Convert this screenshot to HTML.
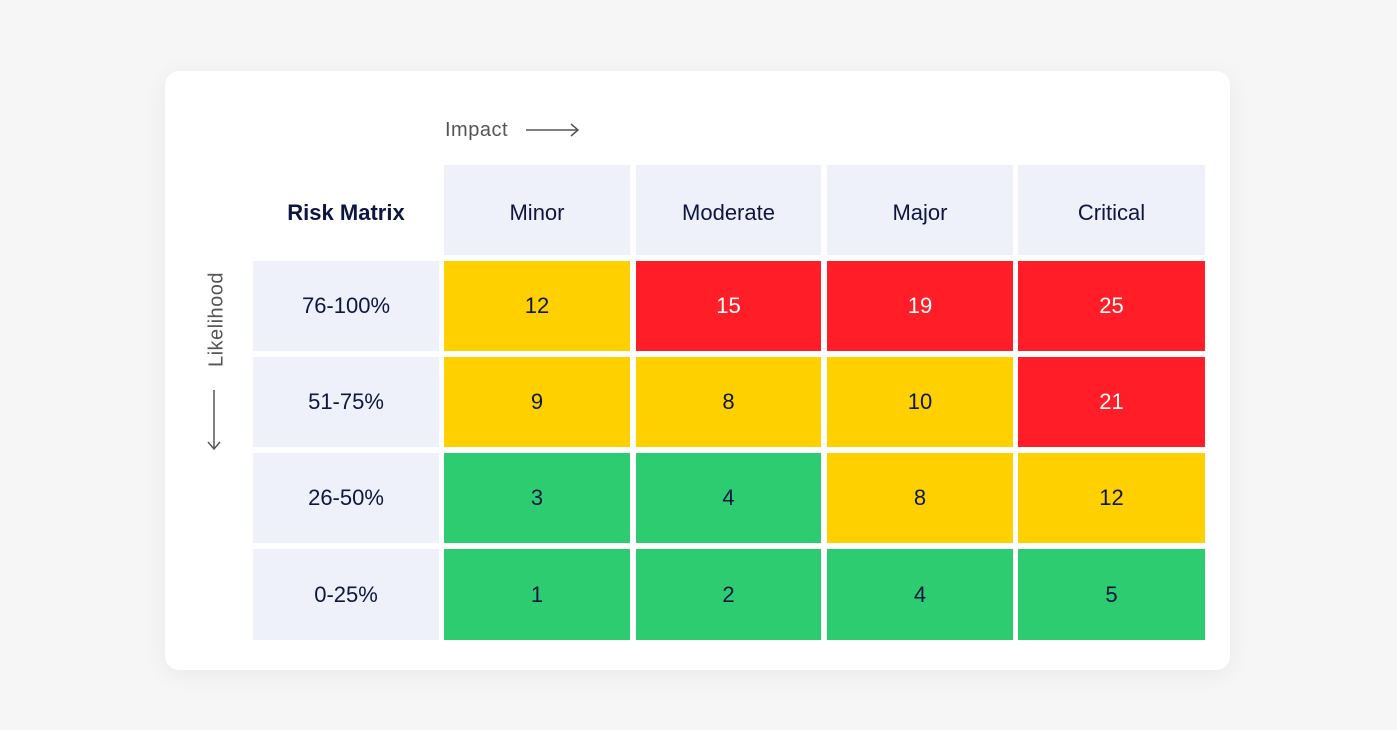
<!DOCTYPE html>
<html><head><style>
body{margin:0;width:1397px;height:730px;background:#f6f6f7;font-family:"Liberation Sans",sans-serif;position:relative;overflow:hidden}
.card{position:absolute;left:165px;top:71px;width:1065px;height:599px;background:#fff;border-radius:14px;box-shadow:0 4px 24px rgba(0,0,0,0.06)}
.c{position:absolute;display:flex;align-items:center;justify-content:center;font-size:22px;color:#0d1640}
.top{padding-top:6px;box-sizing:border-box}
.h{background:#eef1fa}
.y{background:#ffd000}
.r{background:#ff1e27;color:#fff}
.g{background:#2ecc71}
</style></head><body>
<div class="card"></div>
<div style="position:absolute;left:445px;top:119px;font-size:20px;color:#555;letter-spacing:0.5px">Impact</div>
<svg style="position:absolute;left:525px;top:122px" width="58" height="16"><line x1="1" y1="8" x2="53" y2="8" stroke="#555" stroke-width="1.5"/><polyline points="46,2 53,8 46,14" fill="none" stroke="#555" stroke-width="1.5"/></svg>
<div style="position:absolute;left:164px;top:308px;width:106px;transform:rotate(-90deg);font-size:20px;color:#555;text-align:center;letter-spacing:0.5px">Likelihood</div>
<svg style="position:absolute;left:205px;top:388px" width="18" height="64"><line x1="9" y1="2" x2="9" y2="61" stroke="#555" stroke-width="1.5"/><polyline points="3,54 9,61 15,54" fill="none" stroke="#555" stroke-width="1.5"/></svg>
<div class="c top" style="left:253px;top:165px;width:186px;height:90px;font-weight:bold">Risk Matrix</div>
<div class="c h top" style="left:444px;top:165px;width:186px;height:90px">Minor</div>
<div class="c h top" style="left:636px;top:165px;width:185px;height:90px">Moderate</div>
<div class="c h top" style="left:827px;top:165px;width:186px;height:90px">Major</div>
<div class="c h top" style="left:1018px;top:165px;width:187px;height:90px">Critical</div>

<div class="c h" style="left:253px;top:261px;width:186px;height:90px">76-100%</div>
<div class="c y" style="left:444px;top:261px;width:186px;height:90px">12</div>
<div class="c r" style="left:636px;top:261px;width:185px;height:90px">15</div>
<div class="c r" style="left:827px;top:261px;width:186px;height:90px">19</div>
<div class="c r" style="left:1018px;top:261px;width:187px;height:90px">25</div>

<div class="c h" style="left:253px;top:357px;width:186px;height:90px">51-75%</div>
<div class="c y" style="left:444px;top:357px;width:186px;height:90px">9</div>
<div class="c y" style="left:636px;top:357px;width:185px;height:90px">8</div>
<div class="c y" style="left:827px;top:357px;width:186px;height:90px">10</div>
<div class="c r" style="left:1018px;top:357px;width:187px;height:90px">21</div>

<div class="c h" style="left:253px;top:453px;width:186px;height:90px">26-50%</div>
<div class="c g" style="left:444px;top:453px;width:186px;height:90px">3</div>
<div class="c g" style="left:636px;top:453px;width:185px;height:90px">4</div>
<div class="c y" style="left:827px;top:453px;width:186px;height:90px">8</div>
<div class="c y" style="left:1018px;top:453px;width:187px;height:90px">12</div>

<div class="c h" style="left:253px;top:549px;width:186px;height:91px">0-25%</div>
<div class="c g" style="left:444px;top:549px;width:186px;height:91px">1</div>
<div class="c g" style="left:636px;top:549px;width:185px;height:91px">2</div>
<div class="c g" style="left:827px;top:549px;width:186px;height:91px">4</div>
<div class="c g" style="left:1018px;top:549px;width:187px;height:91px">5</div>
</body></html>
